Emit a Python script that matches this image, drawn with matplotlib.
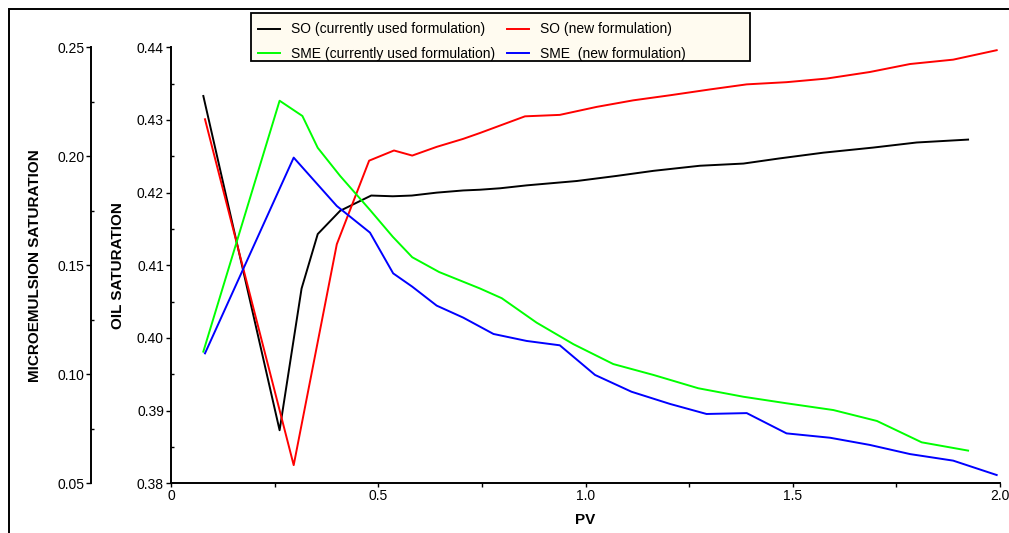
import matplotlib
matplotlib.use("Agg")
import matplotlib.pyplot as plt
from matplotlib.patches import Rectangle
from matplotlib.ticker import MultipleLocator, FormatStrFormatter, FuncFormatter

plt.rcParams['font.family'] = ['Liberation Sans', 'DejaVu Sans']

# ---- data ----
pv_so_cur = [0.078, 0.262, 0.315, 0.354, 0.408, 0.483, 0.535, 0.581, 0.641, 0.705,
             0.745, 0.794, 0.858, 0.979, 1.075, 1.164, 1.276, 1.381, 1.467, 1.574,
             1.694, 1.799, 1.923]
so_cur = [0.4333, 0.3873, 0.4068, 0.4143, 0.4175, 0.4196, 0.4195, 0.4196, 0.4200, 0.4203,
          0.4204, 0.4206, 0.4210, 0.4216, 0.4223, 0.4230, 0.4237, 0.4240, 0.4247, 0.4255,
          0.4262, 0.4269, 0.4273]

pv_so_new = [0.082, 0.296, 0.400, 0.478, 0.538, 0.582, 0.641, 0.705, 0.745, 0.854,
             0.938, 1.027, 1.115, 1.204, 1.300, 1.389, 1.485, 1.582, 1.686, 1.783,
             1.887, 1.992]
so_new = [0.4301, 0.3825, 0.4129, 0.4244, 0.4258, 0.4251, 0.4263, 0.4274, 0.4282, 0.4305,
          0.4307, 0.4318, 0.4327, 0.4334, 0.4342, 0.4349, 0.4352, 0.4357, 0.4366, 0.4377,
          0.4383, 0.4396]

pv_sme_cur = [0.078, 0.262, 0.317, 0.354, 0.408, 0.480, 0.535, 0.582, 0.647, 0.745,
              0.798, 0.882, 0.971, 1.067, 1.164, 1.272, 1.381, 1.485, 1.598, 1.703,
              1.811, 1.923]
sme_cur = [0.1104, 0.2255, 0.2185, 0.2039, 0.1910, 0.1754, 0.1631, 0.1537, 0.1469, 0.1394,
           0.1349, 0.1237, 0.1138, 0.1047, 0.0997, 0.0936, 0.0897, 0.0867, 0.0836, 0.0786,
           0.0688, 0.0650]

pv_sme_new = [0.082, 0.296, 0.400, 0.480, 0.536, 0.582, 0.641, 0.705, 0.778, 0.858,
              0.938, 1.023, 1.111, 1.204, 1.292, 1.389, 1.485, 1.590, 1.686, 1.783,
              1.887, 1.992]
sme_new = [0.1096, 0.1994, 0.1772, 0.1650, 0.1463, 0.1402, 0.1315, 0.1260, 0.1185, 0.1153,
           0.1133, 0.0997, 0.0920, 0.0864, 0.0818, 0.0822, 0.0729, 0.0709, 0.0676, 0.0634,
           0.0604, 0.0538]

labels = ["SO (currently used formulation)", "SO (new formulation)",
          "SME (currently used formulation)", "SME  (new formulation)"]

W, H = 1009, 533
fig = plt.figure(figsize=(W / 100, H / 100), dpi=100)

ax_l, ax_r, ax_t, ax_b = 171, 1000, 47.3, 483.3
ax = fig.add_axes([ax_l / W, 1 - ax_b / H, (ax_r - ax_l) / W, (ax_b - ax_t) / H])
ax2 = ax.twinx()

lw = 1.4
l1, = ax.plot(pv_so_cur, so_cur, color='#000000', lw=lw, label=labels[0])
l2, = ax.plot(pv_so_new, so_new, color='#ff0000', lw=lw, label=labels[1])
l3, = ax2.plot(pv_sme_cur, sme_cur, color='#00ff00', lw=lw, label=labels[2])
l4, = ax2.plot(pv_sme_new, sme_new, color='#0000ff', lw=lw, label=labels[3])

ax.set_xlim(0, 2.0)
ax.set_ylim(0.38, 0.44)
ax2.set_ylim(0.05, 0.25)

# spines
for a in (ax, ax2):
    a.spines['top'].set_visible(False)
    a.spines['right'].set_visible(False)
    a.patch.set_visible(False)
ax2.spines['bottom'].set_visible(False)
ax.spines['left'].set_linewidth(1.4)
ax.spines['bottom'].set_linewidth(1.4)
ax2.spines['left'].set_visible(True)
ax2.spines['left'].set_linewidth(1.4)
ax2.spines['left'].set_position(('outward', 57.3))
ax2.yaxis.tick_left()
ax2.yaxis.set_label_position('left')

# ticks
ax.xaxis.set_major_locator(MultipleLocator(0.5))
ax.xaxis.set_minor_locator(MultipleLocator(0.25))
ax.xaxis.set_major_formatter(FuncFormatter(lambda v, p: '0' if abs(v) < 1e-9 else f'{v:.1f}'))
ax.yaxis.set_major_locator(MultipleLocator(0.01))
ax.yaxis.set_minor_locator(MultipleLocator(0.005))
ax.yaxis.set_major_formatter(FormatStrFormatter('%.2f'))
ax2.yaxis.set_major_locator(MultipleLocator(0.05))
ax2.yaxis.set_minor_locator(MultipleLocator(0.025))
ax2.yaxis.set_major_formatter(FormatStrFormatter('%.2f'))

for a in (ax, ax2):
    a.tick_params(axis='y', which='major', direction='out', length=3.6, width=1.0,
                  labelsize=10, pad=1.5, colors='#000000')
    a.tick_params(axis='y', which='minor', direction='in', length=2.2, width=1.0)
ax.tick_params(axis='x', which='major', direction='out', length=3.0, width=1.0,
               labelsize=10, pad=1.0)
ax.tick_params(axis='x', which='minor', direction='out', length=3.0, width=1.0)

# axis labels
ax.set_ylabel('OIL SATURATION', fontsize=11, fontweight='bold', va='center', ha='center')
ax.yaxis.set_label_coords((118.5 - ax_l) / (ax_r - ax_l), 0.5)
ax2.set_ylabel('MICROEMULSION SATURATION', fontsize=11, fontweight='bold', va='center', ha='center')
ax2.yaxis.set_label_coords((35 - ax_l) / (ax_r - ax_l), 0.5)
ax.set_xlabel('PV', fontsize=11, fontweight='bold', va='center', ha='center')
ax.xaxis.set_label_coords((585 - ax_l) / (ax_r - ax_l), (ax_b - 520) / (ax_b - ax_t))

# legend box (drawn separately to match the wide frame of the reference)
fig.add_artist(Rectangle((251 / W, 1 - 61 / H), (750 - 251) / W, (61 - 13) / H,
                         transform=fig.transFigure, facecolor='#fffbf0',
                         edgecolor='#000000', lw=1.3, zorder=9))
leg = fig.legend([l1, l3, l2, l4], [labels[0], labels[2], labels[1], labels[3]],
                 ncol=2, loc='upper left', bbox_to_anchor=(258 / W, 1 - 22.5 / H),
                 bbox_transform=fig.transFigure, fontsize=10, frameon=False,
                 borderaxespad=0, borderpad=0, handlelength=1.58,
                 handletextpad=0.8, columnspacing=0.85, labelspacing=0.75)
leg.set_zorder(10)

# outer figure border (left and top edges)
fig.add_artist(Rectangle((9.3 / W, -0.2), 1.2, (1 - 9.3 / H) + 0.2, transform=fig.transFigure,
                         fill=False, edgecolor='#000000', lw=1.4, clip_on=False, zorder=0))

fig.savefig('out.png', dpi=100)
